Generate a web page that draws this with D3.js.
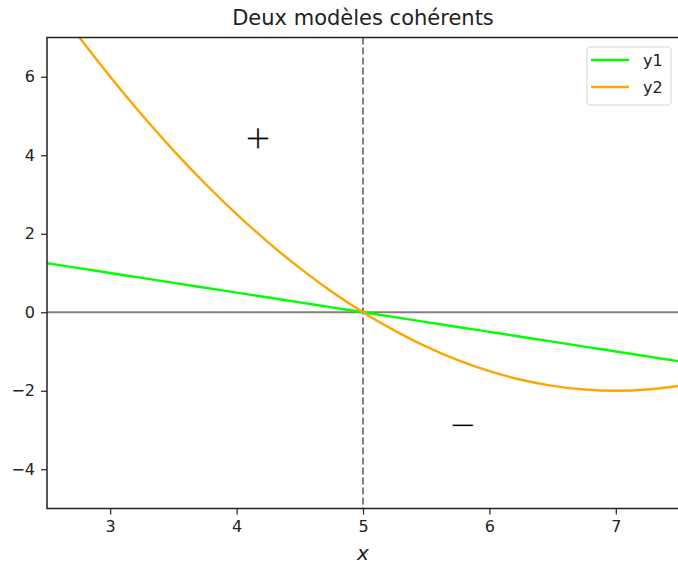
<!DOCTYPE html>
<html>
<head>
<meta charset="utf-8">
<script src="https://cdn.jsdelivr.net/npm/d3@7"></script>
<style>
  body { margin: 0; background: #fff; }
  svg { font-family: "DejaVu Sans", sans-serif; }
</style>
</head>
<body>
<svg width="678" height="564"></svg>
<script>
// DATA
const xs = [2.5, 2.75, 3, 3.25, 3.5, 3.75, 4, 4.25, 4.5, 4.75, 5,
            5.25, 5.5, 5.75, 6, 6.25, 6.5, 6.75, 7, 7.25, 7.5];
const y1 = [1.25, 1.125, 1, 0.875, 0.75, 0.625, 0.5, 0.375, 0.25, 0.125, 0,
            -0.125, -0.25, -0.375, -0.5, -0.625, -0.75, -0.875, -1, -1.125, -1.25];
const y2 = [8.125, 7.031, 6, 5.031, 4.125, 3.281, 2.5, 1.781, 1.125, 0.531, 0,
            -0.469, -0.875, -1.219, -1.5, -1.719, -1.875, -1.969, -2, -1.969, -1.875];
const xTicks = [3, 4, 5, 6, 7];
const yTicks = [-4, -2, 0, 2, 4, 6];
const seriesNames = ['y1', 'y2'];
const seriesColors = ['#00ff00', '#ffa500'];
const signs = [{ x: 4.17, y: 4.42, t: '+' }, { x: 5.79, y: -2.9, t: '\u2212' }];

const plotLeft = 47, plotRight = 679, plotTop = 37.5, plotBottom = 508.5;

// SCALES
const xScale = d3.scaleLinear().domain([2.5, 7.5]).range([plotLeft, plotRight]);
const yScale = d3.scaleLinear().domain([-5, 7]).range([plotBottom, plotTop]);

const svg = d3.select('svg');

svg.append('clipPath').attr('id', 'clip')
   .append('rect')
   .attr('x', plotLeft).attr('y', plotTop)
   .attr('width', plotRight - plotLeft).attr('height', plotBottom - plotTop);

const plot = svg.append('g').attr('clip-path', 'url(#clip)');

// REFERENCE LINES
plot.append('line')
    .attr('x1', plotLeft).attr('x2', plotRight)
    .attr('y1', yScale(0)).attr('y2', yScale(0))
    .attr('stroke', '#808080').attr('stroke-width', 2);

plot.append('line')
    .attr('x1', xScale(5)).attr('x2', xScale(5))
    .attr('y1', plotTop).attr('y2', plotBottom)
    .attr('stroke', '#808080').attr('stroke-width', 2)
    .attr('stroke-dasharray', '7,3');

// SERIES
const series = [y1, y2];
const line = d3.line()
    .x(d => xScale(d[0]))
    .y(d => yScale(d[1]))
    .curve(d3.curveNatural);

series.forEach((ys, i) => {
  plot.append('path')
      .datum(xs.map((x, j) => [x, ys[j]]))
      .attr('d', line)
      .attr('fill', 'none')
      .attr('stroke', seriesColors[i])
      .attr('stroke-width', 2.4);
});

// SIGNS
svg.selectAll('.sign')
   .data(signs)
   .enter()
   .append('text')
   .attr('class', 'sign')
   .attr('x', d => xScale(d.x))
   .attr('y', d => yScale(d.y))
   .attr('dy', '0.3em')
   .attr('text-anchor', 'middle')
   .attr('fill', '#000')
   .attr('stroke', '#fff')
   .attr('stroke-width', 0.9)
   .style('font-size', '34px')
   .text(d => d.t);

// AXES
const xAxis = d3.axisBottom(xScale).tickValues(xTicks).tickSize(6).tickSizeOuter(0).tickPadding(6)
                .tickFormat(d3.format('d'));
const yAxis = d3.axisLeft(yScale).tickValues(yTicks).tickSize(6).tickSizeOuter(0).tickPadding(6)
                .tickFormat(d => d < 0 ? '\u2212' + Math.abs(d) : d);

const gx = svg.append('g').attr('transform', `translate(0, ${plotBottom})`).call(xAxis);
const gy = svg.append('g').attr('transform', `translate(${plotLeft}, 0)`).call(yAxis);
[gx, gy].forEach(g => {
  g.selectAll('path').remove();
  g.selectAll('line').attr('stroke', '#222').attr('stroke-width', 1.2);
  g.selectAll('text').attr('fill', '#222').style('font-size', '16px').style('font-family', '"DejaVu Sans"');
});

// SPINES
svg.append('path')
   .attr('d', `M${plotRight},${plotTop}H${plotLeft}V${plotBottom}H${plotRight}`)
   .attr('fill', 'none')
   .attr('stroke', '#222')
   .attr('stroke-width', 1.5);

// TITLE & LABEL
svg.append('text')
   .attr('x', (plotLeft + plotRight) / 2)
   .attr('y', 25)
   .attr('text-anchor', 'middle')
   .attr('fill', '#222')
   .style('font-size', '21px')
   .text('Deux modèles cohérents');

svg.append('text')
   .attr('x', (plotLeft + plotRight) / 2)
   .attr('y', 560)
   .attr('text-anchor', 'middle')
   .attr('fill', '#222')
   .style('font-size', '20px')
   .style('font-style', 'italic')
   .text('x');

// LEGEND
const legend = svg.append('g').attr('transform', 'translate(587, 47)');
legend.append('rect')
      .attr('width', 84).attr('height', 58)
      .attr('rx', 3)
      .attr('fill', 'rgba(255,255,255,0.8)')
      .attr('stroke', '#d5d5d5');
seriesNames.forEach((name, i) => {
  const yy = 13 + i * 27;
  legend.append('line')
        .attr('x1', 4).attr('x2', 42)
        .attr('y1', yy).attr('y2', yy)
        .attr('stroke', seriesColors[i]).attr('stroke-width', 2.4);
  legend.append('text')
        .attr('x', 56).attr('y', yy)
        .attr('dy', '0.35em')
        .attr('fill', '#222')
        .style('font-size', '16px')
        .text(name);
});
</script>
</body>
</html>
